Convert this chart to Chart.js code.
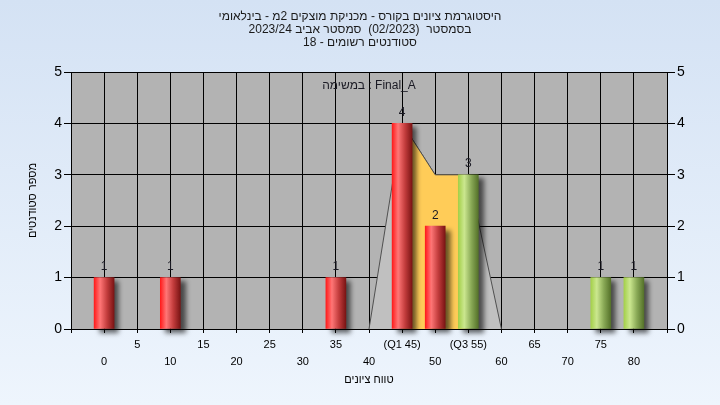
<!DOCTYPE html>
<html lang="he">
<head>
<meta charset="utf-8">
<title>היסטוגרמת ציונים</title>
<script src="https://cdn.jsdelivr.net/npm/chart.js@4.4.0/dist/chart.umd.min.js"></script>
<style>
  html, body { margin: 0; padding: 0; }
  body { width: 720px; height: 405px; overflow: hidden; background: linear-gradient(#d4e2f4, #eef5fd); }
  canvas { direction: rtl; }
</style>
</head>
<body>
<canvas id="histChart" width="720" height="405"></canvas>
<script>
// chart data
var titleLines = ['היסטוגרמת ציונים בקורס - מכניקת מוצקים 2מ - בינלאומי', 'בסמסטר  (02/2023)  סמסטר אביב 2023/24', 'סטודנטים רשומים - 18'];
var taskLabel = 'Final_A : במשימה';
var xTitle = 'טווח ציונים';
var yTitle = 'מספר סטודנטים';

var gradeBins = [0, 10, 35, 45, 50, 55, 75, 80];
var studentCounts = [1, 1, 1, 4, 2, 3, 1, 1];

var q1 = 45;
var q3 = 55;
var spreadX = [40, 45, 50, 55, 60];
var spreadY = [0, 4, 3, 3, 0];

var xTickValues = [-5, 0, 5, 10, 15, 20, 25, 30, 35, 40, 45, 50, 55, 60, 65, 70, 75, 80, 85];
var xTickLabels = ['', '0', '5', '10', '15', '20', '25', '30', '35', '40', '(Q1 45)', '50', '(Q3 55)', '60', '65', '70', '75', '80', ''];

var redStops = ['#ff1c1c', '#ff7676', '#c23c3c', '#7a1414'];
var greenStops = ['#a4d04a', '#cbe78f', '#89a956', '#55722a'];

function cylinderFill(ctx) {
  var chart = ctx.chart;
  var xs = chart.scales.x;
  var fallback = '#e03030';
  if (!ctx.parsed || !xs) return fallback;
  var px = xs.getPixelForValue(ctx.parsed.x);
  if (!isFinite(px)) return fallback;
  var stops = ctx.parsed.x >= q3 ? greenStops : redStops;
  var g = chart.ctx.createLinearGradient(px - 10, 0, px + 10, 0);
  g.addColorStop(0, stops[0]);
  g.addColorStop(0.3, stops[1]);
  g.addColorStop(0.65, stops[2]);
  g.addColorStop(1, stops[3]);
  return g;
}

function points(xs, ys) {
  var out = [];
  for (var i = 0; i < xs.length; i++) out.push({x: xs[i], y: ys[i]});
  return out;
}

var barPoints = points(gradeBins, studentCounts);
var spreadPoints = points(spreadX, spreadY);
var iqrPoints = spreadPoints.filter(function (p) { return p.x >= q1 && p.x <= q3; });

var plotBackground = {
  id: 'plotBackground',
  beforeDraw: function (chart) {
    var a = chart.chartArea;
    var c = chart.ctx;
    c.save();
    c.fillStyle = '#b3b3b3';
    c.fillRect(a.left, a.top, a.right - a.left, a.bottom - a.top);
    c.restore();
  }
};

var barShadow = {
  id: 'barShadow',
  beforeDatasetDraw: function (chart, args) {
    if (args.meta.type !== 'bar') return;
    var c = chart.ctx;
    c.save();
    c.shadowColor = 'rgba(0,0,0,0.6)';
    c.shadowOffsetX = 5;
    c.shadowOffsetY = 4;
    c.shadowBlur = 5;
  },
  afterDatasetDraw: function (chart, args) {
    if (args.meta.type !== 'bar') return;
    chart.ctx.restore();
  }
};

var valueLabels = {
  id: 'valueLabels',
  afterDatasetsDraw: function (chart) {
    var c = chart.ctx;
    var a = chart.chartArea;
    c.save();
    c.font = '12px "Liberation Sans", Arial, sans-serif';
    c.fillStyle = '#1a1a24';
    c.textAlign = 'center';
    c.textBaseline = 'middle';
    var meta = chart.getDatasetMeta(0);
    meta.data.forEach(function (bar, i) {
      c.fillText(String(studentCounts[i]), bar.x, bar.y - 11);
    });
    c.fillText(taskLabel, (a.left + a.right) / 2, a.top + 14);
    c.restore();
  }
};

var ctx = document.getElementById('histChart');
var histChart = new Chart(ctx, {
  type: 'bar',
  data: {
    datasets: [{
      type: 'bar',
      label: 'students',
      data: barPoints,
      backgroundColor: cylinderFill,
      borderWidth: 0,
      barThickness: 20,
      order: 0,
      clip: false
    }, {
      type: 'line',
      label: 'iqr',
      data: iqrPoints,
      fill: 'origin',
      backgroundColor: '#ffcc58',
      borderColor: '#505050',
      borderWidth: 1,
      pointRadius: 0,
      tension: 0,
      order: 1
    }, {
      type: 'line',
      label: 'spread',
      data: spreadPoints,
      fill: 'origin',
      backgroundColor: '#c0c0c0',
      borderColor: '#505050',
      borderWidth: 1,
      pointRadius: 0,
      tension: 0,
      order: 2
    }]
  },
  options: {
    responsive: false,
    animation: false,
    events: [],
    layout: { padding: 0 },
    font: { family: '"Liberation Sans", Arial, sans-serif' },
    plugins: {
      legend: { display: false },
      tooltip: { enabled: false },
      title: {
        display: true,
        text: titleLines,
        color: '#1a1a1a',
        font: { size: 12, weight: 'normal', lineHeight: '13px' },
        padding: { top: 10.5, bottom: 22.5 }
      }
    },
    scales: {
      x: {
        type: 'linear',
        min: -5,
        max: 85,
        offset: false,
        afterFit: function (scale) { scale.height = 76; },
        afterBuildTicks: function (scale) {
          scale.ticks = xTickValues.map(function (v) { return {value: v}; });
        },
        ticks: {
          autoSkip: false,
          maxRotation: 0,
          padding: 3.5,
          color: '#000',
          font: { size: 11, lineHeight: '17px' },
          callback: function (value, index) {
            var lbl = xTickLabels[index];
            return (index % 2 === 1) ? ['', lbl] : lbl;
          }
        },
        grid: { offset: false, color: '#000', tickColor: '#000', tickLength: 4, lineWidth: 1 },
        border: { color: '#000' },
        title: {
          display: true,
          text: xTitle,
          color: '#000',
          font: { size: 11 },
          padding: { top: 0, bottom: 18.4 }
        }
      },
      y: {
        position: 'left',
        min: 0,
        max: 5,
        afterFit: function (scale) { scale.width = 71; },
        ticks: { stepSize: 1, color: '#000', padding: 2, font: { size: 14 } },
        grid: { color: '#000', tickColor: '#000', tickLength: 7 },
        border: { color: '#000' },
        title: {
          display: true,
          text: yTitle,
          color: '#000',
          font: { size: 11 },
          padding: { top: 26.4, bottom: 0 }
        }
      },
      y2: {
        position: 'right',
        min: 0,
        max: 5,
        afterFit: function (scale) { scale.width = 53; },
        ticks: { stepSize: 1, color: '#000', padding: 2, font: { size: 14 } },
        grid: { drawOnChartArea: false, color: '#000', tickColor: '#000', tickLength: 8 },
        border: { color: '#000' }
      }
    }
  },
  plugins: [plotBackground, barShadow, valueLabels]
});
</script>
</body>
</html>
